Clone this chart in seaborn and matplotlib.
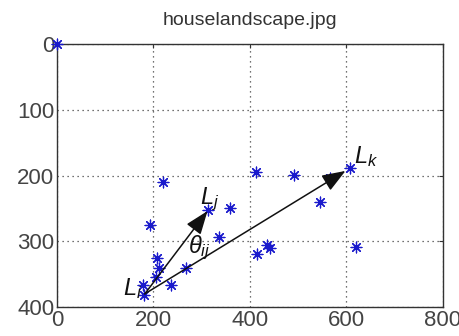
import matplotlib
matplotlib.use("Agg")
import matplotlib.pyplot as plt
import seaborn as sns
import pandas as pd

# Detected landmark positions (image coordinates, pixels)
xs = [0, 219, 412, 313, 358, 192, 335, 414, 435, 442, 208, 211, 268,
      206, 178, 237, 181, 491, 565, 607, 546, 619]
ys = [0, 210, 195, 252, 249, 276, 293, 319, 305, 310, 325, 340, 340,
      355, 366, 366, 381, 199, 204, 189, 240, 308]

# Vectors from landmark L_i towards L_j and L_k
arrow_start = (182, 380)
arrow_ends = [(312, 254), (598, 193)]

# Label text and baseline anchor positions
labels = ["$L_i$", "$L_j$", "$L_k$", r"$\theta_{ij}$"]
label_pos = [(136, 382), (296, 243), (615, 181), (272, 318)]

title = "houselandscape.jpg"
xticks = [0, 200, 400, 600, 800]
yticks = [0, 100, 200, 300, 400]

sns.set_theme(style="white")
plt.rcParams["font.family"] = ["Liberation Sans", "DejaVu Sans"]
plt.rcParams["mathtext.fontset"] = "custom"
plt.rcParams["mathtext.it"] = "Liberation Sans:italic"
plt.rcParams["mathtext.rm"] = "Liberation Sans"

fig = plt.figure(figsize=(4.59, 3.36), dpi=100)
ax = fig.add_axes([0.1242, 0.0863, 0.8408, 0.7827])

df = pd.DataFrame({"x": xs, "y": ys})
sns.scatterplot(data=df, x="x", y="y", ax=ax, marker=(8, 2, 0), s=60,
                color="#1a1acc", linewidth=0.9, clip_on=False, zorder=3)

for end in arrow_ends:
    ax.annotate("", xy=end, xytext=arrow_start,
                arrowprops=dict(arrowstyle="-|>,head_length=1.2,head_width=0.45",
                                mutation_scale=12,
                                color="#111111", lw=1.1,
                                shrinkA=0, shrinkB=0),
                zorder=4)

for txt, (lx, ly) in zip(labels, label_pos):
    ax.text(lx, ly, txt, fontsize=17, color="#111111",
            ha="left", va="baseline", zorder=5)

ax.set_xlim(0, 800)
ax.set_ylim(400, 0)
ax.set_xticks(xticks)
ax.set_yticks(yticks)
ax.set_xlabel("")
ax.set_ylabel("")
ax.set_title(title, fontsize=14, color="#333333", pad=14)

ax.grid(True, linestyle=(0, (1, 3)), color="#444444", linewidth=0.9)
ax.tick_params(direction="in", length=3, width=0.8, colors="#333333",
               labelsize=16, top=True, right=True, pad=2,
               labelcolor="#444444")
for sp in ax.spines.values():
    sp.set_visible(True)
    sp.set_color("#333333")
    sp.set_linewidth(1.0)

fig.savefig("out.png", dpi=100)
